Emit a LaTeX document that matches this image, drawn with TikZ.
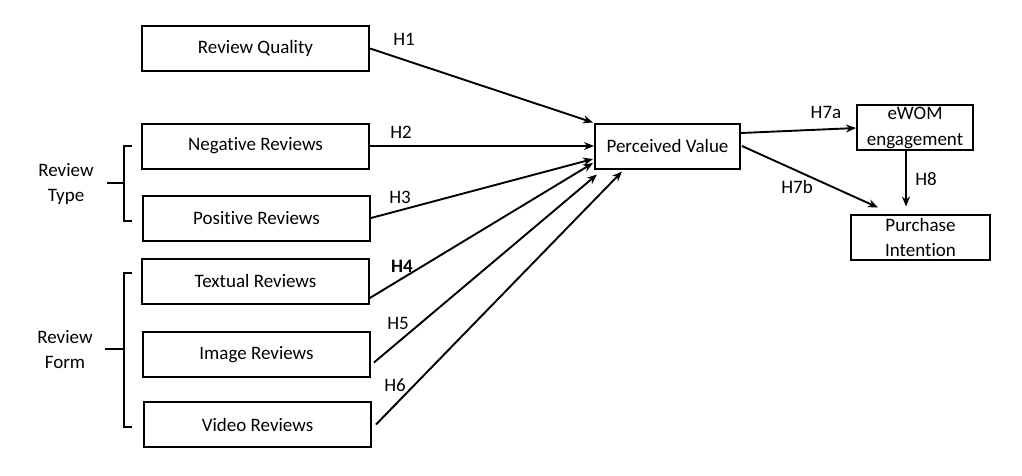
\documentclass[tikz,border=0pt]{standalone}
\usepackage{fontspec}
\setmainfont[Ligatures=NoCommon]{Carlito}
\usetikzlibrary{arrows.meta,calc}
\begin{document}
\begin{tikzpicture}[x=1pt,y=-1pt,
  box/.style={draw,line width=2pt,minimum width=#1,minimum height=45pt,inner sep=0pt,font=\fontsize{19}{25}\selectfont,align=center},
  box/.default=227pt,
  lbl/.style={font=\fontsize{19}{25}\selectfont,inner sep=0pt},
  conn/.style={line width=1.9pt,-{Stealth[length=10pt,width=8pt]}},
  brk/.style={line width=1.9pt}]
\useasboundingbox (0,0) rectangle (1022,475);
% boxes
\node[box] (rq) at (255.5,48.5) {Review Quality};
\node[box] (neg) at (255.5,146) {Negative Reviews};
\node[box] (pos) at (256.5,218) {Positive Reviews};
\node[box] (tex) at (255.5,281) {Textual Reviews};
\node[box] (img) at (256.5,354.5) {Image Reviews};
\node[box] (vid) at (257.5,424.5) {Video Reviews};
\node[box=145pt] (pv) at (667.5,146) {Perceived Value};
\node[box=116pt] (ew) at (915,127) {};
\node[lbl,align=center,font=\fontsize{19}{26}\selectfont] (ewt) at (915,128) {eWOM\\engagement};
\node[box=139pt] (pi) at (920.5,237) {Purchase\\Intention};
% side labels
\node[lbl,align=center] (rt) at (66,184) {Review\\Type};
\node[lbl,align=center] (rf) at (65,350) {Review\\Form};
% brackets
\coordinate (b1t) at (132,146);
\coordinate (b1b) at (132,221);
\coordinate (b1m) at (107,183);
\draw[brk] (b1t) -- (124,146) -- (124,221) -- (b1b);
\draw[brk] (b1m) -- (124,183);
\coordinate (b2t) at (132,273);
\coordinate (b2b) at (132,427);
\coordinate (b2m) at (105,349);
\draw[brk] (b2t) -- (124,273) -- (124,427) -- (b2b);
\draw[brk] (b2m) -- (124,349);
% connectors
\draw[conn] (rq.east) -- ($(pv.north west)+(-1,0)$);
\draw[conn] (neg.east) -- (pv.west);
\draw[conn] (pos.east) -- ($(pv.west)+(-1,13)$);
\draw[conn] ($(tex.south east)+(-1,-6)$) -- ($(pv.west)+(-1,17)$);
\draw[conn] ($(img.east)+(3,8)$) -- ($(pv.south west)+(3,5)$);
\draw[conn] ($(vid.east)+(4,0)$) -- ($(pv.south west)+(28,2)$);
\draw[conn] ($(pv.east)+(0,-13)$) -- ($(ew.west)+(0,1)$);
\draw[conn] ($(pv.east)+(1,0)$) -- ($(pi.north west)+(28,-6)$);
\draw[conn] ($(ew.south west)+(50,0)$) -- ($(pi.north west)+(56,-7)$);
% hypothesis labels
\node[lbl] (h1) at (404,39) {H1};
\node[lbl] (h2) at (401,132) {H2};
\node[lbl] (h3) at (400,197) {H3};
\node[lbl,font=\bfseries\fontsize{19}{25}\selectfont] (h4) at (402,266) {H4};
\node[lbl] (h5) at (398,323) {H5};
\node[lbl] (h6) at (395,385) {H6};
\node[lbl] (h7a) at (826,112) {H7a};
\node[lbl] (h7b) at (797,187) {H7b};
\node[lbl] (h8) at (926,179) {H8};
\end{tikzpicture}
\end{document}
